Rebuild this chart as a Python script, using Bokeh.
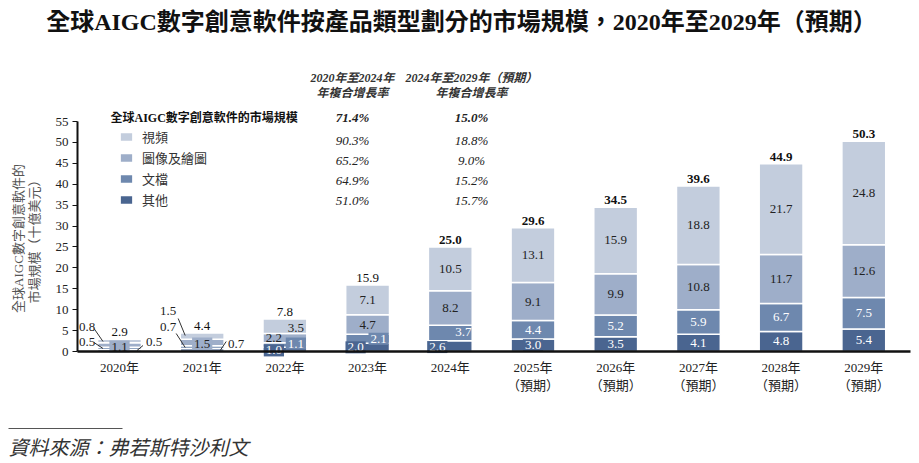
import math
from bokeh.plotting import figure
from bokeh.models import (ColumnDataSource, Range1d, FixedTicker, Label, Legend,
                          LegendItem, BoxAnnotation)
from bokeh.core.properties import value
from bokeh.embed import file_html
from bokeh.resources import INLINE

# ---------------- data ----------------
years = ["2020年", "2021年", "2022年", "2023年", "2024年",
         "2025年\n（預期）", "2026年\n（預期）", "2027年\n（預期）",
         "2028年\n（預期）", "2029年\n（預期）"]
other = [0.5, 0.7, 1.0, 2.0, 2.6, 3.0, 3.5, 4.1, 4.8, 5.4]
doc = [0.5, 0.7, 1.1, 2.1, 3.7, 4.4, 5.2, 5.9, 6.7, 7.5]
image = [1.1, 1.5, 2.2, 4.7, 8.2, 9.1, 9.9, 10.8, 11.7, 12.6]
video = [0.8, 1.5, 3.5, 7.1, 10.5, 13.1, 15.9, 18.8, 21.7, 24.8]
totals = [2.9, 4.4, 7.8, 15.9, 25.0, 29.6, 34.5, 39.6, 44.9, 50.3]
series_names = ["視頻", "圖像及繪圖", "文檔", "其他"]   # legend order (top to bottom)
cagr_20_24 = ["71.4%", "90.3%", "65.2%", "64.9%", "51.0%"]
cagr_24_29 = ["15.0%", "18.8%", "9.0%", "15.2%", "15.7%"]
y_ticks = list(range(0, 56, 5))
Y_MAX = 55

# ---------------- layout / style ----------------
C_VID, C_IMG, C_DOC, C_OTH = "#c3cddd", "#9eaec9", "#6e88ae", "#4a6590"
DARK = "#222222"
SERIF = "Liberation Serif, Noto Sans CJK TC"
W, H = 919, 463
AX_L, AX_R = 77, 910          # page x of y-axis / end of baseline
BASE_Y, TOP_Y = 351, 121      # page y of 0 and of 55
C0, PITCH = 119, 82.7         # page x of first bar centre, bar pitch
PX_X = PITCH
PX_Y = (BASE_Y - TOP_Y) / Y_MAX

def dx_(px):
    return (px - C0) / PX_X

def dy_(py):
    return (BASE_Y - py) / PX_Y

p = figure(width=W, height=H, output_backend="svg", toolbar_location=None,
           x_range=Range1d(dx_(0), dx_(W)), y_range=Range1d(dy_(H), dy_(0)),
           min_border=0, tools="")
p.outline_line_color = None
p.xgrid.visible = False
p.ygrid.visible = False

src = ColumnDataSource(dict(x=list(range(len(years))), other=other, doc=doc,
                            image=image, video=video))
rs = p.vbar_stack(["other", "doc", "image", "video"], x="x", width=0.53,
                  color=[C_OTH, C_DOC, C_IMG, C_VID], line_color="white",
                  line_width=1.5, source=src)

# axes (fixed inside the frame)
ya = p.yaxis[0]
ya.fixed_location = dx_(AX_L)
ya.ticker = FixedTicker(ticks=y_ticks)
ya.bounds = (0, Y_MAX)
ya.axis_line_width = 2
ya.axis_line_color = "#111111"
ya.major_tick_line_color = "#111111"
ya.major_tick_out = 5
ya.major_tick_in = 0
ya.minor_tick_out = 0
ya.minor_tick_in = 0
ya.major_label_standoff = 4
ya.major_label_text_font = SERIF
ya.major_label_text_font_size = "13px"
ya.major_label_text_color = DARK

xa = p.xaxis[0]
xa.fixed_location = 0
xa.ticker = FixedTicker(ticks=list(range(len(years))))
xa.major_label_overrides = {i: t for i, t in enumerate(years)}
xa.bounds = (dx_(AX_L), dx_(AX_R))
xa.axis_line_width = 2.5
xa.axis_line_color = "#111111"
xa.major_tick_out = 0
xa.major_tick_in = 0
xa.minor_tick_out = 0
xa.minor_tick_in = 0
xa.major_label_standoff = 8
xa.major_label_text_font = SERIF
xa.major_label_text_font_size = "13px"
xa.major_label_text_color = DARK

# ---------------- segment labels ----------------
series = [("other", other, "white"), ("doc", doc, "white"),
          ("image", image, DARK), ("video", video, DARK)]
# (dx px, up px, box colour, text colour) for crowded small bars
special = {
    (0, "video"): (-32.5, 14.5, None, DARK), (0, "doc"): (-32.5, 6, None, DARK),
    (0, "image"): (0, -1.5, C_IMG, DARK), (0, "other"): (34.5, 8, None, DARK),
    (1, "video"): (-34, 25.7, None, DARK), (1, "doc"): (-34, 20.6, None, DARK),
    (1, "image"): (0, -1, C_IMG, DARK), (1, "other"): (34, 6.5, None, DARK),
    (2, "video"): (11, -1.3, None, DARK), (2, "image"): (-11, 0, None, DARK),
    (2, "other"): (-11, -1, C_OTH, "white"), (2, "doc"): (11, 1.5, C_DOC, "white"),
    (3, "other"): (-12, 0, C_OTH, "white"), (3, "doc"): (11, 0, C_DOC, "white"),
    (4, "doc"): (13, 1, None, "white"), (4, "other"): (-13, -1, C_OTH, "white"),
    (5, "other"): (0, 0, C_OTH, "white"),
}
L = dict(x=[], y=[], text=[], color=[], bg=[], bga=[], xo=[], yo=[])
for i in range(len(years)):
    base = 0.0
    for key, vals, tcol in series:
        v = vals[i]
        mid = base + v / 2
        base += v
        ox, up, bg, tc = special.get((i, key), (0, 0, None, tcol))
        L["x"].append(i)
        L["y"].append(mid)
        L["text"].append(f"{v:.1f}")
        L["color"].append(tc)
        L["bg"].append(bg if bg else "white")
        L["bga"].append(1.0 if bg else 0.0)
        L["xo"].append(ox)
        L["yo"].append(-up)
p.text(x="x", y="y", text="text", source=ColumnDataSource(L),
       text_color="color", text_align="center", text_baseline="middle",
       x_offset="xo", y_offset="yo", text_font=value(SERIF),
       text_font_size="13px", background_fill_color="bg",
       background_fill_alpha="bga", padding=2)

# totals
T = dict(x=list(range(len(years))), y=totals,
         text=[f"{t:.1f}" for t in totals],
         style=["normal"] * 4 + ["bold"] * 6)
p.text(x="x", y="y", text="text", source=ColumnDataSource(T), text_color="#111111",
       text_align="center", text_baseline="bottom", y_offset=-3,
       text_font=value(SERIF), text_font_size="13px", text_font_style="style")

# leader lines (px relative to bar centre and baseline)
leaders = [(0, -25.5, 23, -16.5, 10), (0, -25.5, 9, -16.5, 3), (0, 17.5, 1, 23.5, 6),
           (1, -24, 33, -17, 16), (1, -26, 18, -17, 4), (1, 18, 1, 24, 10)]
p.segment(x0=[a + b / PX_X for a, b, c, d, e in leaders],
          y0=[c / PX_Y for a, b, c, d, e in leaders],
          x1=[a + d / PX_X for a, b, c, d, e in leaders],
          y1=[e / PX_Y for a, b, c, d, e in leaders],
          line_color="#333333", line_width=1)

# ---------------- legend ----------------
legend = Legend(items=[LegendItem(label=series_names[0], renderers=[rs[3]]),
                       LegendItem(label=series_names[1], renderers=[rs[2]]),
                       LegendItem(label=series_names[2], renderers=[rs[1]]),
                       LegendItem(label=series_names[3], renderers=[rs[0]])],
                location=(118, H - 209), glyph_width=16, glyph_height=11,
                label_standoff=8, spacing=2, padding=0, margin=0,
                label_height=13, border_line_color=None,
                background_fill_alpha=0, label_text_font=SERIF,
                label_text_font_size="13px", label_text_color="#333333")
p.add_layout(legend)

# ---------------- free texts (page coordinates) ----------------
def lab(text, px, py, size="13px", style="normal", align="center",
        color="#333333", angle=0.0):
    p.add_layout(Label(x=px, y=H - py, x_units="screen", y_units="screen",
                       text=text, text_font=SERIF, text_font_size=size,
                       text_font_style=style, text_align=align,
                       text_baseline="middle", text_color=color, angle=angle))

lab("全球AIGC數字創意軟件按產品類型劃分的市場規模，2020年至2029年（預期）", 461, 21,
    size="24px", style="bold", color="#111111")
lab("2020年至2024年", 352, 77, size="12px", style="bold italic")
lab("年複合增長率", 352, 92, size="12px", style="bold italic")
lab("2024年至2029年（預期）", 471, 77, size="12px", style="bold italic")
lab("年複合增長率", 471, 92, size="12px", style="bold italic")
lab("全球AIGC數字創意軟件的市場規模", 110, 117, size="12px", style="bold",
    align="left", color="#111111")
row_y = [117, 140, 160, 180, 200]
for k in range(5):
    st = "bold italic" if k == 0 else "italic"
    lab(cagr_20_24[k], 352, row_y[k], style=st, color="#222222")
    lab(cagr_24_29[k], 471, row_y[k], style=st, color="#222222")

lab("全球AIGC數字創意軟件的", 18, 238, size="13px", color="#555555", angle=math.pi / 2)
lab("市場規模（十億美元）", 34, 238, size="13px", color="#555555", angle=math.pi / 2)

lab("資料來源：弗若斯特沙利文", 8, 447, size="20px", style="italic", align="left",
    color="#333333")
p.add_layout(BoxAnnotation(left=8, right=122, top=H - 427.5, bottom=H - 428.5,
                           left_units="screen", right_units="screen",
                           top_units="screen", bottom_units="screen",
                           fill_color="#555555", fill_alpha=1, line_color=None))

open("out.html", "w").write(file_html(p, INLINE))
